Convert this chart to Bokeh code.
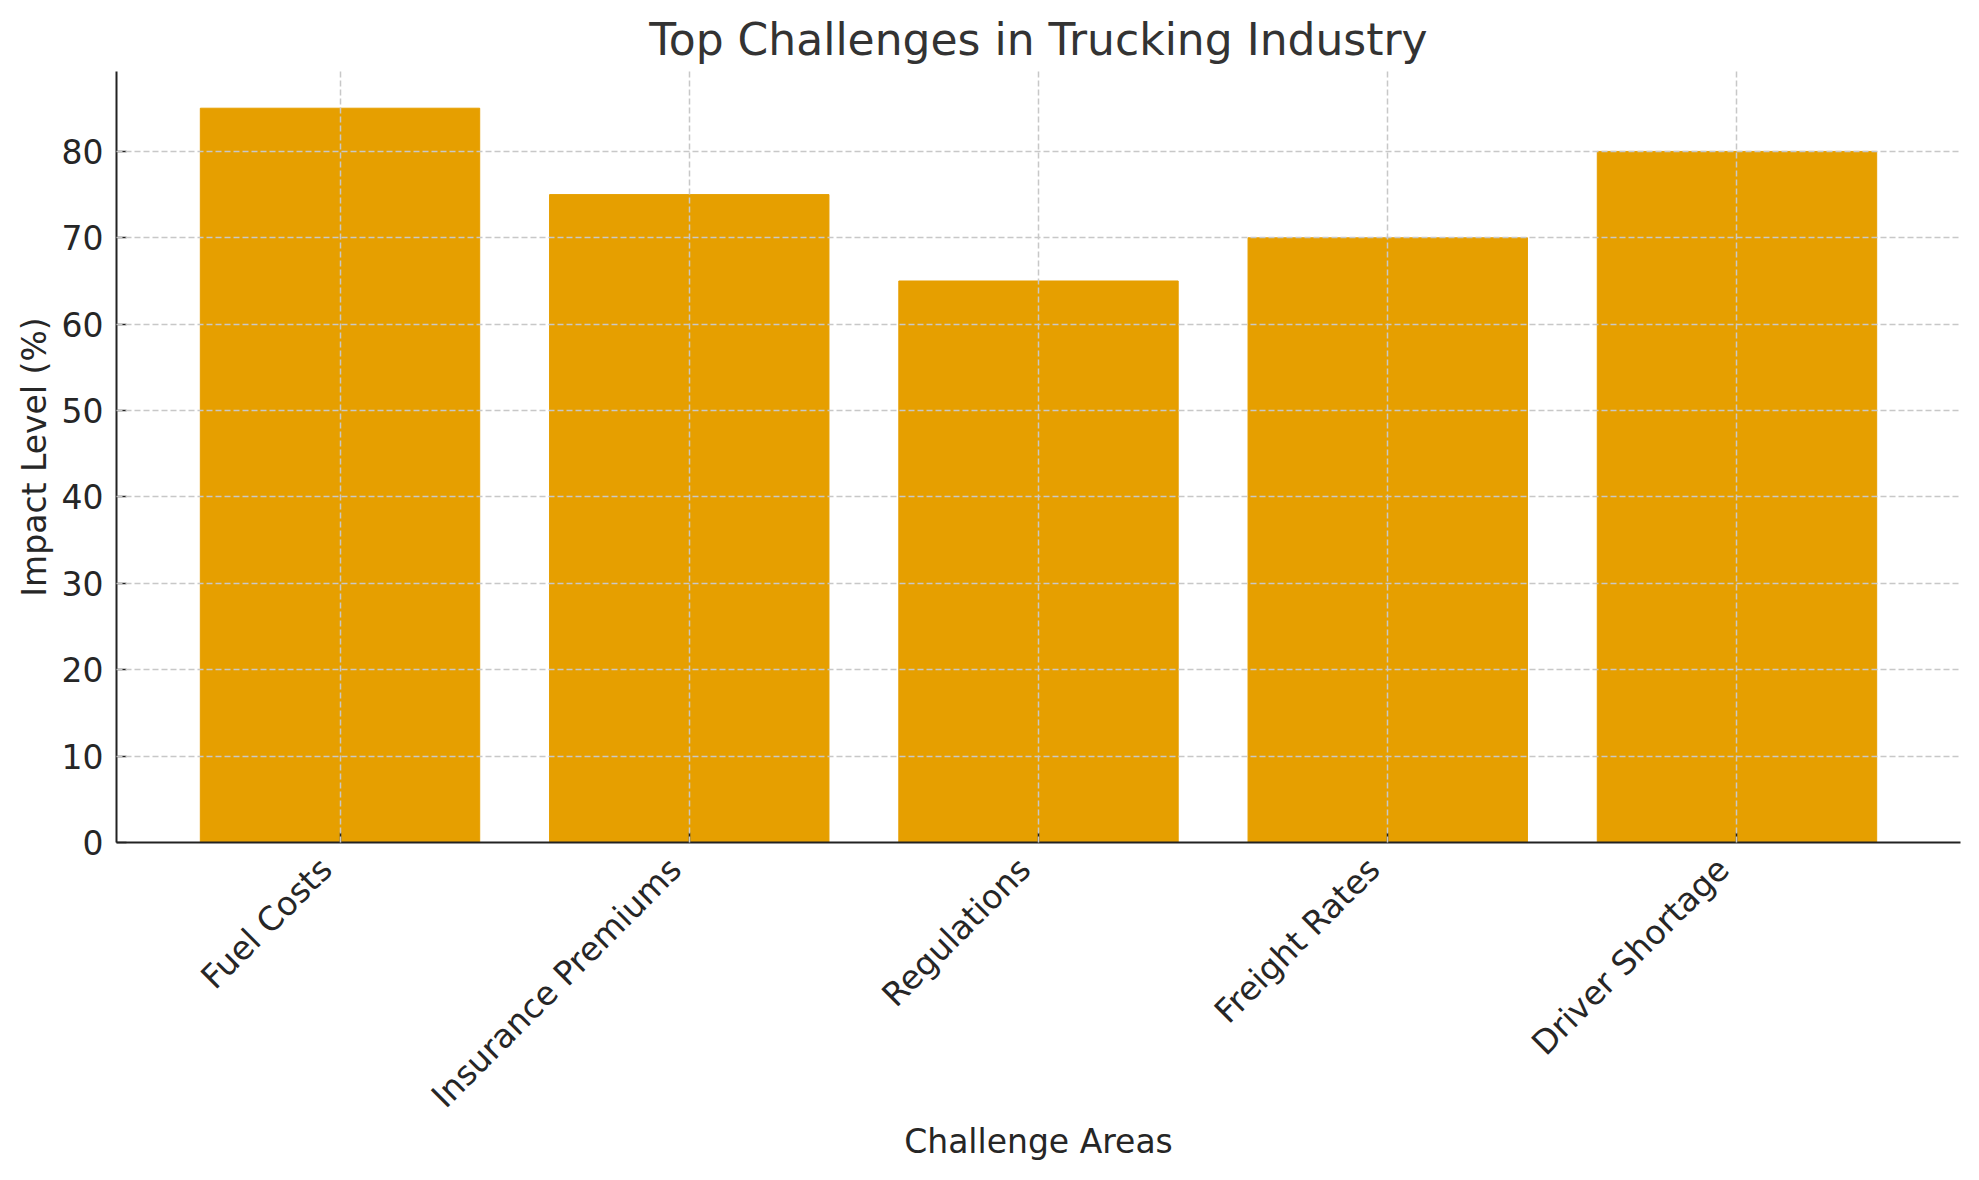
from math import pi

from bokeh.plotting import figure
from bokeh.models import Range1d, FixedTicker, ColumnDataSource, LinearAxis
from bokeh.embed import file_html
from bokeh.resources import INLINE

# data
challenges = ["Fuel Costs", "Insurance Premiums", "Regulations", "Freight Rates", "Driver Shortage"]
impact = [85, 75, 65, 70, 80]
y_ticks = [0, 10, 20, 30, 40, 50, 60, 70, 80]

FONT = "DejaVu Sans"
TEXT = "#262626"

positions = list(range(len(challenges)))
source = ColumnDataSource(data=dict(x=positions, top=impact, name=challenges))

x_lo, x_hi = -0.64, len(challenges) - 1 + 0.64
p = figure(
    width=1963, height=1164,
    x_range=Range1d(x_lo, x_hi),
    y_range=Range1d(0, max(impact) * 1.05),
    output_backend="svg", toolbar_location=None,
    title="Top Challenges in Trucking Industry",
    y_axis_label="Impact Level (%)",
    min_border_left=116, min_border_right=3,
    min_border_top=71, min_border_bottom=322,
)

p.vbar(x="x", top="top", width=0.8, source=source, color="#E69F00")

# title
p.title.align = "center"
p.title.text_font = FONT
p.title.text_font_size = "44px"
p.title.text_font_style = "normal"
p.title.text_color = "#333333"
p.title.offset = 0
p.title.standoff = 13

# label axis: same ticks, range nudged so rotated names end just left of each tick
shift = 0.04
p.extra_x_ranges = {"names": Range1d(x_lo + shift, x_hi + shift)}
name_axis = LinearAxis(x_range_name="names", axis_label="Challenge Areas")
p.add_layout(name_axis, "below")

# axes
p.xaxis.ticker = FixedTicker(ticks=positions)
p.yaxis.ticker = FixedTicker(ticks=y_ticks)

for ax in (p.xaxis, p.yaxis):
    ax.axis_line_color = "#222222"
    ax.axis_line_width = 2
    ax.major_tick_line_color = "#222222"
    ax.major_tick_line_width = 1.5
    ax.major_tick_in = 10
    ax.major_tick_out = 0
    ax.minor_tick_line_color = None
    ax.major_label_text_font = FONT
    ax.major_label_text_font_size = "33px"
    ax.major_label_text_color = TEXT
    ax.axis_label_text_font = FONT
    ax.axis_label_text_font_size = "33px"
    ax.axis_label_text_font_style = "normal"
    ax.axis_label_text_color = TEXT

main_axis = p.xaxis[0]
main_axis.major_label_overrides = {i: "" for i in positions}
main_axis.major_label_text_font_size = "0px"
main_axis.major_label_standoff = 0

name_axis.axis_line_color = None
name_axis.major_tick_line_color = None
name_axis.major_label_overrides = {i: c for i, c in enumerate(challenges)}
name_axis.major_label_orientation = pi / 4
name_axis.major_label_standoff = 21
name_axis.axis_label_standoff = -10

p.yaxis.major_label_standoff = 13
p.yaxis.axis_label_standoff = 5

# dashed grid drawn over the bars
for g in (p.xgrid, p.ygrid):
    g.grid_line_color = "#c8c8c8"
    g.grid_line_width = 1.5
    g.grid_line_dash = "6 3"
    g.level = "annotation"

p.outline_line_color = None
p.background_fill_color = "white"
p.border_fill_color = "white"

open("out.html", "w").write(file_html(p, INLINE))
